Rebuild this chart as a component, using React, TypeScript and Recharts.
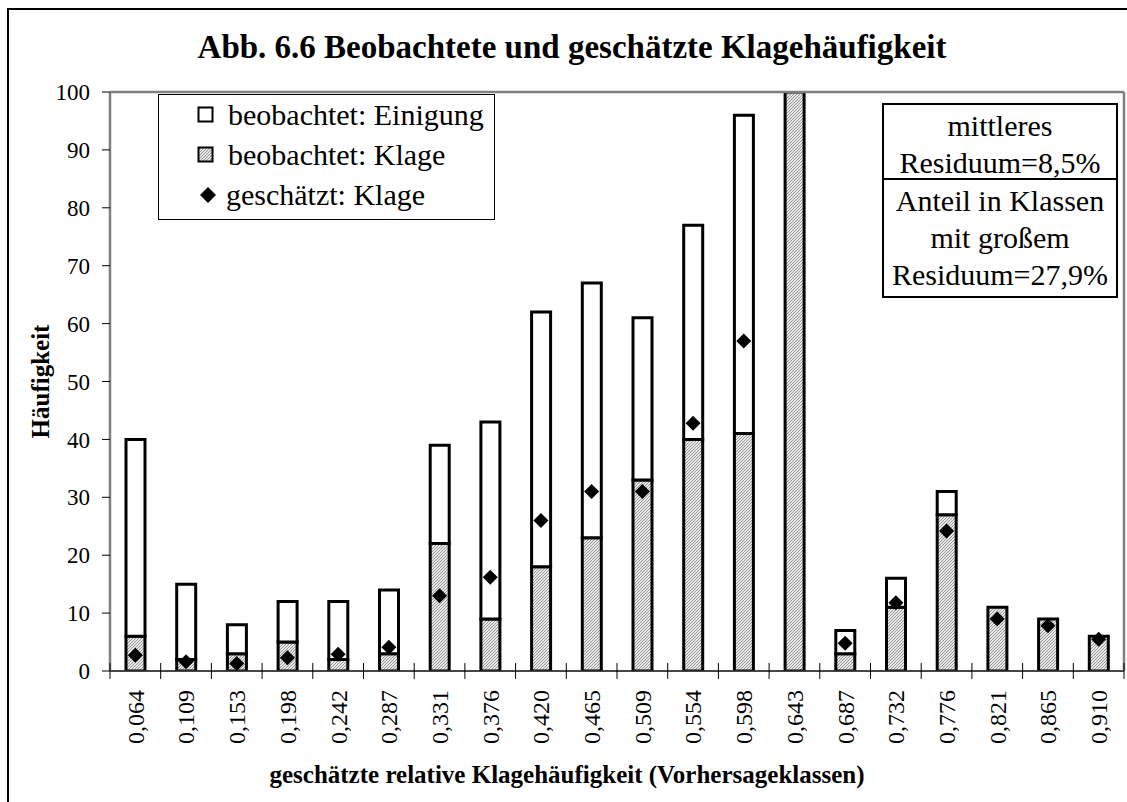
import { ComposedChart, Bar, Scatter, XAxis, YAxis, CartesianGrid, Legend, Label, ReferenceLine } from 'recharts'

const klassen = ['0,064', '0,109', '0,153', '0,198', '0,242', '0,287', '0,331', '0,376', '0,420', '0,465',
  '0,509', '0,554', '0,598', '0,643', '0,687', '0,732', '0,776', '0,821', '0,865', '0,910']
// beobachtet: Klage (unterer, schraffierter Teil)
const klage = [6, 2, 3, 5, 2, 3, 22, 9, 18, 23, 33, 40, 41, 125, 3, 11, 27, 11, 9, 6]
// beobachtet insgesamt (Oberkante des Balkens)
const gesamt = [40, 15, 8, 12, 12, 14, 39, 43, 62, 67, 61, 77, 96, 140, 7, 16, 31, 11, 9, 6]
// geschätzt: Klage (Rauten)
const geschaetzt = [2.7, 1.6, 1.3, 2.3, 2.9, 4.1, 13, 16.2, 26, 31, 31, 42.8, 57, null, 4.8, 11.8, 24.2, 9, 7.8, 5.5]
const yTicks = [0, 10, 20, 30, 40, 50, 60, 70, 80, 90, 100]

const data = klassen.map((k, i) => ({
  klasse: k,
  klage: klage[i],
  einigung: gesamt[i] - klage[i],
  geschaetzt: geschaetzt[i],
}))

const W = 1127
const H = 802
const PLOT_LEFT = 110
const PLOT_RIGHT = 1124
const HALF_BAND = (PLOT_RIGHT - PLOT_LEFT) / klassen.length / 2
const FONT = '"Liberation Serif", "Times New Roman", serif'

function KlasseTick(props: any) {
  const { x, y, payload, index } = props
  const half = payload && payload.offset ? payload.offset : HALF_BAND
  return (
    <g>
      <line x1={x - half} x2={x - half} y1={y - 8} y2={y + 8} stroke="#000" strokeWidth={1} />
      {index === klassen.length - 1 && (
        <line x1={x + half} x2={x + half} y1={y - 8} y2={y + 8} stroke="#000" strokeWidth={1} />
      )}
      <text x={x} y={y + 19} transform={`rotate(-90, ${x}, ${y + 19})`} textAnchor="end" dy="0.35em"
        fontSize={24} fill="#000">
        {payload.value}
      </text>
    </g>
  )
}

function Raute(props: any) {
  const { cx, cy } = props
  if (cx == null || cy == null || !isFinite(cx) || !isFinite(cy)) return null
  const r = 7.5
  return <polygon points={`${cx},${cy - r} ${cx + r},${cy} ${cx},${cy + r} ${cx - r},${cy}`} fill="#000" />
}

function Schraffur({ id }: { id: string }) {
  return (
    <pattern id={id} width="3" height="3" patternUnits="userSpaceOnUse">
      <rect width="3" height="3" fill="#e8e8e8" />
      <path d="M-1,1 l2,-2 M0,3 l3,-3 M2,4 l2,-2" stroke="#8c8c8c" strokeWidth="0.9" />
    </pattern>
  )
}

function Legende() {
  const row = { display: 'flex', alignItems: 'center', height: 40 }
  return (
    <div style={{ width: 335, height: 124, border: '1px solid #000', background: '#fff', fontSize: 30, lineHeight: '40px', color: '#000', fontFamily: FONT }}>
      <div style={row}>
        <svg width={69} height={20}><rect x={39.5} y={2.5} width={14} height={14} fill="#fff" stroke="#000" strokeWidth={2} /></svg>
        <span>beobachtet: Einigung</span>
      </div>
      <div style={row}>
        <svg width={69} height={20}>
          <defs><Schraffur id="schraffurLegende" /></defs>
          <rect x={39.5} y={2.5} width={14} height={14} fill="url(#schraffurLegende)" stroke="#000" strokeWidth={2} />
        </svg>
        <span>beobachtet: Klage</span>
      </div>
      <div style={row}>
        <svg width={67} height={20}><polygon points="49,2 57,10 49,18 41,10" fill="#000" /></svg>
        <span>geschätzt: Klage</span>
      </div>
    </div>
  )
}

const boxStyle = {
  position: 'absolute' as const,
  left: 882,
  width: 232,
  border: '2px solid #000',
  background: '#fff',
  textAlign: 'center' as const,
  fontSize: 30,
  lineHeight: '37px',
  color: '#000',
}

export default function App() {
  return (
    <div style={{ position: 'absolute', left: 0, top: 0, width: W, height: H, overflow: 'hidden', background: '#fff', fontFamily: FONT }}>
      <div style={{ position: 'absolute', left: 7, top: 8, width: W + 20, height: H + 20, border: '2px solid #000' }} />
      <div style={{ position: 'absolute', left: 0, width: 1144, top: 27, textAlign: 'center', fontSize: 33, fontWeight: 'bold', lineHeight: '40px', color: '#000' }}>
        Abb. 6.6 Beobachtete und geschätzte Klagehäufigkeit
      </div>
      <div style={{ position: 'absolute', left: 0, top: 0 }}>
        <ComposedChart width={W} height={H} data={data} margin={{ top: 92, right: 0, bottom: 0, left: 0 }} barSize={19}>
          <defs>
            <Schraffur id="schraffur" />
          </defs>
          <CartesianGrid vertical={false} stroke="#000" strokeWidth={1} />
          <XAxis dataKey="klasse" interval={0} height={131} tick={<KlasseTick />} tickLine={false} tickSize={0} tickMargin={0}
            axisLine={{ stroke: '#333', strokeWidth: 1.5 }}>
            <Label value="geschätzte relative Klagehäufigkeit (Vorhersageklassen)" position="insideBottom" offset={19} dx={-50}
              style={{ fontSize: 25, fontWeight: 'bold', fill: '#000' }} />
          </XAxis>
          <YAxis yAxisId="l" width={110} domain={[0, 100]} ticks={yTicks} allowDataOverflow interval={0}
            tick={{ fontSize: 23, fill: '#000' }} tickSize={8} tickMargin={12}
            tickLine={{ stroke: '#000' }} axisLine={{ stroke: '#808080', strokeWidth: 2.5 }}>
            <Label value="Häufigkeit" angle={-90} position="insideLeft" offset={40}
              style={{ fontSize: 25, fontWeight: 'bold', fill: '#000', textAnchor: 'middle' }} />
          </YAxis>
          <YAxis yAxisId="r" orientation="right" width={3} domain={[0, 100]} tick={false} tickLine={false}
            axisLine={{ stroke: '#808080', strokeWidth: 2.5 }} />
          <ReferenceLine yAxisId="l" y={100} stroke="#808080" strokeWidth={2.5} />
          <Bar yAxisId="l" dataKey="klage" name="beobachtet: Klage" stackId="b" fill="url(#schraffur)" stroke="#000" strokeWidth={3} isAnimationActive={false} />
          <Bar yAxisId="l" dataKey="einigung" name="beobachtet: Einigung" stackId="b" fill="#fff" stroke="#000" strokeWidth={3} isAnimationActive={false} />
          <Scatter yAxisId="l" dataKey="geschaetzt" name="geschätzt: Klage" fill="#000" shape={<Raute />} isAnimationActive={false} />
          <Legend layout="horizontal" verticalAlign="middle" align="center" content={<Legende />}
            wrapperStyle={{ left: 158, top: 94, width: 337, height: 126 }} />
        </ComposedChart>
      </div>
      <div style={{ ...boxStyle, top: 103, height: 75 }}>
        <div style={{ paddingTop: 2 }}>mittleres</div>
        <div>Residuum=8,5%</div>
      </div>
      <div style={{ ...boxStyle, top: 178, height: 116 }}>
        <div style={{ paddingTop: 2 }}>Anteil in Klassen</div>
        <div>mit großem</div>
        <div>Residuum=27,9%</div>
      </div>
    </div>
  )
}
